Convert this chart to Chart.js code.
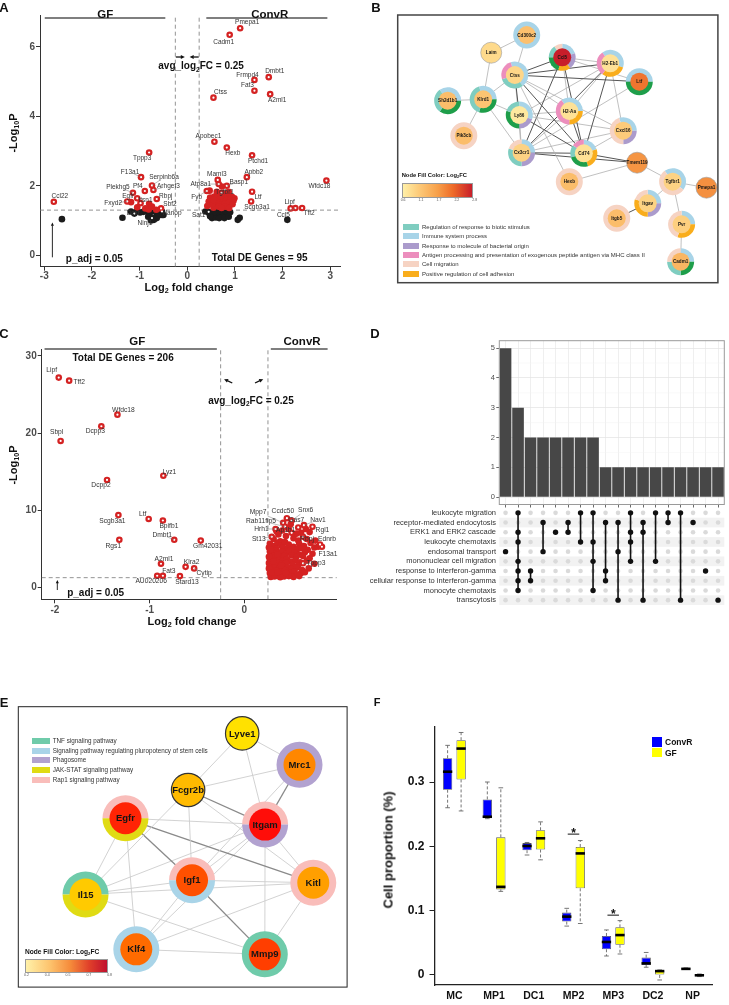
<!DOCTYPE html>
<html lang="en">
<head>
<meta charset="UTF-8">
<title>Figure panels A-F</title>
<script src="https://cdn.jsdelivr.net/npm/chart.js"></script>
<style>
  * { box-sizing: border-box; margin: 0; padding: 0; }
  body { width: 729px; height: 1005px; position: relative; overflow: hidden; background: #fff;
         font-family: 'Liberation Sans', Arial, sans-serif; color: #111; }
  canvas { position: absolute; }
  .t { position: absolute; white-space: nowrap; line-height: 1; transform: translate(-50%, -50%); }
  .r { transform: translate(-50%, -50%) rotate(-90deg); }
  .tag { font-weight: bold; font-size: 13px; }
  .axt { font-weight: bold; font-size: 11px; }
  sub { font-size: 65%; vertical-align: -0.3em; line-height: 0; }
  .leg { position: absolute; white-space: nowrap; line-height: 1; color: #333; transform: translateY(-50%); }
  .sw { position: absolute; }
</style>
</head>
<body>
  <canvas id="chartA" width="365" height="300" style="left:0;top:0"></canvas>
  <canvas id="chartB" width="369" height="300" style="left:360px;top:0"></canvas>
  <canvas id="chartC" width="365" height="330" style="left:0;top:300px"></canvas>
  <canvas id="chartDbar" width="369" height="210" style="left:360px;top:300px"></canvas>
  <canvas id="chartDmat" width="369" height="105" style="left:360px;top:504px"></canvas>
  <canvas id="chartE" width="365" height="365" style="left:0;top:640px"></canvas>
  <canvas id="chartF" width="369" height="365" style="left:360px;top:640px"></canvas>

  <div class="t tag" style="left:4px;top:7px">A</div>
  <div class="t tag" style="left:376px;top:7px">B</div>
  <div class="t tag" style="left:4px;top:333px">C</div>
  <div class="t tag" style="left:375px;top:333px">D</div>
  <div class="t tag" style="left:4px;top:702px">E</div>
  <div class="t tag" style="left:377px;top:702px;font-size:11px">F</div>

  <div class="t r axt" style="left:13px;top:133px">-Log<sub>10</sub>P</div>
  <div class="t axt" style="left:189px;top:287px">Log<sub>2</sub> fold change</div>
  <div class="t r axt" style="left:13px;top:465px">-Log<sub>10</sub>P</div>
  <div class="t axt" style="left:192px;top:621px">Log<sub>2</sub> fold change</div>
  <div class="t r" style="left:388px;top:850px;font-weight:bold;font-size:13px">Cell proportion (%)</div>

<script>
const FONT = "'Liberation Sans', Arial, sans-serif";
Chart.defaults.font.family = FONT;

// thresholds used in both volcano plots
const P_CUT = 1.3;      // -log10(0.05)
const LFC_CUT = 0.25;

// ---------- Panel A: volcano, ConvR vs GF ----------
const aGenes = ['Pmepa1','Cadm1','Dmbt1','Frmpd4','Fat3','A2ml1','Ctss','Apobec1','Hexb','Ptchd1',
  'Apbb2','Maml3','Atp8a1','Basp1','Tgfbr1','Fyb','Ltf','Scgb3a1','Wfdc18','Lipf',
  'Ccl5','Tff2','Tppp3','F13a1','Serpinb6a','Arhgef3','Pf4','Plekhg5','Egfr','Itsn1',
  'Rbpj','Fxyd2','Sbf2','Ccl22','Sat1','Dcxr','Ninj1','Nanop'];
const aGeneLfc = [1.11,0.89,1.71,1.41,1.41,1.74,0.55,0.57,0.83,1.36,
  1.25,0.64,0.66,0.83,0.72,0.41,1.36,1.34,2.92,2.17,
  2.27,2.41,-0.80,-0.97,-0.74,-0.71,-0.89,-1.14,-1.05,-0.98,
  -0.64,-1.26,-0.55,-2.80,0.45,-1.11,-0.74,-0.53];
const aGeneP = [6.54,6.35,5.13,5.05,4.74,4.64,4.54,3.27,3.10,2.88,
  2.25,2.17,2.05,2.00,1.80,1.85,1.83,1.55,2.15,1.35,
  1.36,1.36,2.96,2.25,2.01,1.88,1.85,1.80,1.64,1.50,
  1.62,1.55,1.35,1.54,1.25,1.20,1.07,1.26];
const aOtherSig = [[-1.18,1.53],[-0.80,1.48],[-0.88,1.35],[-0.81,1.32],[-0.65,1.31],[-0.74,1.40],[-1.05,1.38],
  [0.48,1.66],[0.57,1.69],[0.66,1.76],[0.73,1.64],[0.80,1.69],[0.87,1.72],[0.94,1.68],[0.99,1.64],
  [0.60,1.57],[0.67,1.55],[0.76,1.57],[0.83,1.59],[0.90,1.59],[0.97,1.57],[0.59,1.47],[0.69,1.45],
  [0.78,1.48],[0.87,1.50],[0.95,1.47],[0.55,1.37],[0.66,1.40],[0.80,1.40],[0.62,1.83],[0.87,1.83],
  [0.45,1.55],[0.52,1.47],[0.47,1.86],[0.73,1.98],[0.42,1.42],[0.72,1.36],[0.88,1.36],[0.62,1.66],
  [0.70,1.70],[0.78,1.78],[0.55,1.59]];
const aOtherNs = [[-2.63,1.04],[-1.36,1.08],[-1.18,1.26],[-1.05,1.28],[-0.99,1.23],[-0.92,1.25],[-0.85,1.26],
  [-0.78,1.23],[-0.82,1.11],[-0.71,1.07],[-0.70,1.02],[-0.64,1.07],[-0.64,1.14],[-0.57,1.16],[-0.53,1.16],
  [-0.67,1.26],[-0.50,1.16],[-0.60,1.20],[-0.76,1.00],[0.38,1.26],[0.46,1.21],[0.55,1.16],[0.62,1.18],
  [0.69,1.14],[0.76,1.16],[0.83,1.21],[0.52,1.07],[0.60,1.09],[0.67,1.07],[0.78,1.07],[0.87,1.11],
  [0.74,1.26],[0.64,1.25],[0.56,1.24],[0.80,1.28],[0.90,1.24],[0.48,1.12],[1.06,1.02],[1.10,1.08],[2.10,1.02]];
const aXTicks = [-3, -2, -1, 0, 1, 2, 3];
const aYTicks = [0, 2, 4, 6];

// ---------- Panel C: volcano, GF vs ConvR ----------
const cGenes = ['Lipf','Tff2','Wfdc18','Dcpp3','Sbpl','Lyz1','Dcpp2','Scgb3a1','Ltf','Bpifb1',
  'Dmbt1','Gm42031','Rgs1','A2ml1','Klra2','Cytip','Fat3','AU020206','Stard13','Mpp7',
  'Ccdc50','Snx6','Rab11fip5','Gas7','Nav1','Rgl1','Hrh1','Ap1b1','St13','Rbpj',
  'Ednrb','F13a1','Tppp3'];
const cGeneLfc = [-1.96,-1.85,-1.34,-1.51,-1.94,-0.855,-1.45,-1.33,-1.01,-0.86,
  -0.74,-0.46,-1.32,-0.88,-0.62,-0.53,-0.86,-0.92,-0.68,0.41,
  0.45,0.50,0.43,0.57,0.63,0.72,0.33,0.50,0.29,0.62,
  0.80,0.82,0.62];
const cGeneP = [27.2,26.8,22.4,20.9,19.0,14.5,13.95,9.4,8.9,8.7,
  6.2,6.1,6.2,3.1,2.7,2.5,1.55,1.55,1.5,8.4,
  9.0,8.7,7.9,7.8,8.1,7.9,7.6,7.1,6.6,6.6,
  5.6,5.3,3.16];
const cOtherSig = [[0.36,6.9],[0.40,7.4],[0.47,7.6],[0.52,6.4],[0.57,6.1],[0.31,6.3],[0.44,6.7],[0.66,6.3],
  [0.60,7.1],[0.38,6.0],[0.55,7.0],[0.69,7.2],[0.75,6.1],[0.34,7.3],[0.49,8.2],[0.65,7.6],
  [0.27,5.7],[0.31,5.4],[0.35,5.8],[0.39,5.5],[0.43,5.9],[0.47,5.6],[0.52,5.3],[0.58,5.7],[0.63,5.4],
  [0.70,5.8],[0.74,5.2],[0.29,5.1],[0.34,5.0],[0.41,5.2],[0.46,5.0],[0.56,5.0],[0.61,5.1],[0.67,4.9],[0.78,5.3],
  [0.27,4.7],[0.30,4.4],[0.33,4.8],[0.36,4.5],[0.40,4.7],[0.44,4.4],[0.48,4.8],[0.53,4.6],[0.58,4.3],
  [0.64,4.6],[0.72,4.4],[0.28,4.1],[0.32,4.2],[0.38,4.0],[0.42,4.1],[0.50,4.2],[0.55,4.0],[0.62,4.1],[0.69,3.8],
  [0.27,3.7],[0.30,3.9],[0.34,3.6],[0.37,3.8],[0.41,3.5],[0.45,3.7],[0.49,3.4],[0.54,3.6],[0.59,3.3],
  [0.66,3.5],[0.28,3.3],[0.32,3.1],[0.36,3.3],[0.40,3.1],[0.44,3.2],[0.51,3.0],[0.57,2.9],[0.74,3.1],
  [0.27,2.9],[0.30,2.6],[0.33,2.8],[0.37,2.5],[0.41,2.7],[0.46,2.6],[0.50,2.4],[0.55,2.6],[0.61,2.3],
  [0.68,2.5],[0.29,2.3],[0.34,2.2],[0.38,2.1],[0.43,2.3],[0.48,2.0],[0.53,2.1],[0.60,1.9],[0.64,2.0],
  [0.27,1.9],[0.30,1.6],[0.33,1.8],[0.36,1.5],[0.39,1.7],[0.42,1.45],[0.45,1.8],[0.49,1.6],[0.52,1.4],
  [0.56,1.7],[0.28,1.4],[0.32,1.45],[0.38,1.35],[0.47,1.5],[0.58,1.5],[0.44,1.9],
  [0.26,2.5],[0.26,4.0],[0.26,3.2],[0.26,5.2],[0.28,4.9],[0.29,2.0],[0.31,3.4],[0.35,4.3],[0.35,2.0],[0.39,2.9]];
const cXTicks = [-2, -1, 0];
const cYTicks = [0, 10, 20, 30];

// ---------- Panel B: network ----------
const bNodes = ['Cd300c2','Laim','Ccl5','H2-Eb1','Ctss','Ltf','Sh2d1b1','Klrd1','Ly86','H2-Aa','Pik3cb',
  'Cxcl16','Cx3cr1','Cd74','Tmem119','Hexb','Tgfbr1','Pmepa1','Itgav','Itgb5','Pvr','Cadm1'];
const bNodeX = [133.3,96.6,170,219.6,121,249.6,51.6,88.3,125.6,177.3,68.3,233,128,192.3,247.3,177.3,284,319,258.3,226.3,293.3,292.3];
const bNodeY = [20,37.7,42.3,48.3,60,66.7,85.7,84.3,100,96,120.7,115.7,137.7,138.3,147.7,166.7,166.7,172.7,188.3,203.3,209.3,246.7];
const bNodeLfc = [1.25,0.9,2.8,0.8,0.95,2.1,1.3,1.2,0.7,0.8,1.3,1.1,1.0,0.8,1.8,1.3,1.0,1.85,1.0,1.3,1.05,1.4];
// GO term membership rings: [term, start, end] as fractions of a turn from 12 o'clock
const bNodeRings = [
  [['B',0,1]], null,
  [['B',0,0.2],['P',0.2,0.4],['O',0.4,0.55],['G',0.55,0.75],['T',0.75,0.9],['C',0.9,1]],
  [['B',-0.1,0.3],['O',0.3,0.6],['K',0.6,0.9]],
  [['B',-0.05,0.4],['T',0.4,0.7],['K',0.7,0.95]],
  [['B',-0.25,0.25],['G',0.25,0.75]],
  [['B',-0.1,0.25],['G',0.25,0.6],['T',0.6,0.9]],
  [['B',-0.05,0.25],['G',0.25,0.55],['T',0.55,0.95]],
  [['B',0,0.3],['P',0.3,0.5],['G',0.5,0.8],['T',0.8,1]],
  [['B',-0.1,0.25],['O',0.25,0.5],['K',0.5,0.9]],
  [['C',0,1]],
  [['B',-0.05,0.25],['P',0.25,0.5],['C',0.5,0.95]],
  [['B',0,0.25],['P',0.25,0.5],['T',0.5,0.8],['C',0.8,1]],
  [['B',0,0.2],['O',0.2,0.45],['G',0.45,0.7],['T',0.7,0.85],['K',0.85,1]],
  null,
  [['C',0,1]],
  [['B',-0.1,0.35],['C',0.35,0.9]],
  null,
  [['B',0,0.25],['P',0.25,0.5],['O',0.5,0.8],['C',0.8,1]],
  [['C',0,1]],
  [['B',0,0.25],['O',0.25,0.55],['C',0.55,1]],
  [['B',0,0.25],['G',0.25,0.5],['T',0.5,0.75],['C',0.75,1]]
];
const bEdges = [
  ['Cd300c2','Ctss',1],['Laim','Cd300c2',1],['Laim','Klrd1',1],['Sh2d1b1','Klrd1',1],
  ['Klrd1','Pik3cb',1],['Klrd1','Ctss',1],['Klrd1','Ly86',1],['Klrd1','Cx3cr1',1],
  ['Ctss','Ccl5',2],['Ctss','H2-Eb1',2],['Ctss','Ltf',2],['Ctss','Ly86',2],['Ctss','H2-Aa',1],
  ['Ctss','Cd74',2],['Ctss','Cx3cr1',1],['Ctss','Cxcl16',1],['Ctss','Hexb',1],
  ['Ccl5','H2-Eb1',1],['Ccl5','Cx3cr1',2],['Ccl5','Cd74',2],['Ccl5','H2-Aa',1],['Ccl5','Ltf',1],
  ['H2-Eb1','Ly86',1],['H2-Eb1','H2-Aa',1],['H2-Eb1','Cd74',2],['H2-Eb1','Cx3cr1',2],['H2-Eb1','Cxcl16',1],
  ['Ltf','Cx3cr1',1],['Ly86','H2-Aa',1],['Ly86','Cd74',2],['Ly86','Cx3cr1',1],['Ly86','Cxcl16',1],
  ['H2-Aa','Cd74',2],['H2-Aa','Cx3cr1',1],['Cxcl16','Cx3cr1',1],['Cxcl16','Cd74',1],
  ['Cx3cr1','Cd74',2],['Cx3cr1','Tmem119',2],['Cd74','Tmem119',2],['Hexb','Tmem119',1],
  ['Tmem119','Tgfbr1',1],['Tgfbr1','Pmepa1',1],['Tgfbr1','Itgav',1],['Tgfbr1','Pvr',1],
  ['Itgav','Itgb5',2],['Pvr','Cadm1',1]];
const bLegendKeys = ['T','B','P','K','C','O'];
const bLegendLabels = ['Regulation of response to biotic stimulus','Immune system process',
  'Response to molecule of bacterial origin',
  'Antigen processing and presentation of exogenous peptide antigen via MHC class II',
  'Cell migration','Positive regulation of cell adhesion'];
const bColorTicks = ['0.6','1.1','1.7','2.2','2.8'];
const bColorStops = [[0.6,'#fff0a8'],[1.1,'#fdcb7a'],[1.7,'#f7a04a'],[2.2,'#ee6a28'],[2.8,'#c81e2a']];

// ---------- Panel D: upset plot ----------
const dRows = ['leukocyte migration','receptor-mediated endocytosis','ERK1 and ERK2 cascade',
  'leukocyte chemotaxis','endosomal transport','mononuclear cell migration',
  'response to interferon-gamma','cellular response to interferon-gamma','monocyte chemotaxis','transcytosis'];
const dColumnSets = [[4],[0,2,3,5,6,7,8],[6,7],[1,4],[2],[1,2],[0,3],[0,3,5,8],[1,6,7],[1,4,9],
  [0,2,3,5],[1,2,9],[0,5],[0,1],[0,9],[1],[6],[9]];
const dCounts = [5,3,2,2,2,2,2,2,1,1,1,1,1,1,1,1,1,1];
const dYTicks = [0, 1, 2, 3, 4, 5];

// ---------- Panel E: network ----------
const eNodes = ['Lyve1','Mrc1','Fcgr2b','Egfr','Itgam','Igf1','Kitl','Il15','Klf4','Mmp9'];
const eNodeX = [227.7,286,172.7,109,251,176.7,300,68.4,120,250.7];
const eNodeY = [28.3,61.6,88.3,118.3,125,184,186.6,199,257.3,262.6];
const eNodeLfc = [0.2,0.45,0.32,0.72,0.79,0.59,0.39,0.27,0.52,0.64];
const eNodeRings = [null, [['P',0,1]], null,
  [['K',-0.25,0.25],['Y',0.25,0.75]],
  [['K',-0.25,0.25],['P',0.25,0.75]],
  [['K',-0.25,0.25],['B',0.25,0.75]],
  [['K',0,1]],
  [['T',-0.25,0.25],['Y',0.25,0.75]],
  [['B',0,1]], [['T',0,1]]];
const eEdges = [
  ['Lyve1','Mrc1',1],['Lyve1','Fcgr2b',1],['Lyve1','Itgam',1],['Mrc1','Fcgr2b',1],['Mrc1','Itgam',2],
  ['Mrc1','Igf1',1],['Fcgr2b','Itgam',2],['Fcgr2b','Igf1',1],['Fcgr2b','Il15',1],['Fcgr2b','Kitl',1],
  ['Egfr','Itgam',1],['Egfr','Igf1',2],['Egfr','Kitl',2],['Egfr','Il15',1],['Egfr','Klf4',1],
  ['Itgam','Igf1',1],['Itgam','Il15',1],['Itgam','Klf4',1],['Itgam','Mmp9',1],['Itgam','Kitl',1],
  ['Igf1','Il15',1],['Igf1','Kitl',1],['Igf1','Klf4',1],['Igf1','Mmp9',2],
  ['Il15','Kitl',1],['Il15','Mmp9',1],['Klf4','Mmp9',1],['Klf4','Kitl',1],['Kitl','Mmp9',1]];
const eLegendKeys = ['T','B','P','Y','K'];
const eLegendLabels = ['TNF signaling pathway','Signaling pathway regulating pluropotency of stem cells',
  'Phagosome','JAK-STAT signaling pathway','Rap1 signaling pathway'];
const eColorTicks = ['0.2','0.4','0.5','0.7','0.8'];
const eFillStops = [[0.2,'#ffe100'],[0.35,'#ffb000'],[0.5,'#ff7200'],[0.65,'#ff3a00'],[0.8,'#ff0a0a']];

// ---------- Panel F: boxplots ----------
const fGroups = ['MC','MP1','DC1','MP2','MP3','DC2','NP'];
const fConvMin = [0.260,0.243,0.1865,0.076,0.0295,0.012,0.0085];
const fConvQ1  = [0.288,0.244,0.194,0.083,0.040,0.0155,0.0088];
const fConvMed = [0.316,0.246,0.2005,0.0907,0.0513,0.018,0.0095];
const fConvQ3  = [0.337,0.273,0.205,0.097,0.0606,0.027,0.0105];
const fConvMax = [0.357,0.300,0.206,0.1036,0.070,0.035,0.011];
const fGfMin = [0.255,0.130,0.179,0.080,0.0326,-0.0078,-0.0025];
const fGfQ1  = [0.304,0.133,0.195,0.1347,0.047,0.000,-0.002];
const fGfMed = [0.352,0.137,0.2125,0.189,0.062,0.006,-0.0005];
const fGfQ3  = [0.365,0.214,0.225,0.199,0.074,0.0067,0.001];
const fGfMax = [0.377,0.291,0.238,0.209,0.0845,0.0078,0.0015];
const fYTicks = [0, 0.1, 0.2, 0.3];
const fSigGroups = [3, 4];
const fSigY = [0.219, 0.093];

// ---------- label placement (pixels, relative to each point) ----------
const aLabelNudge = [[7,-6],[-6,7],[6,-6],[-7,-5],[-7,-5],[7,6],[7,-5],[-6,-6],[6,6],[6,6],
  [7,-5],[-1,-6],[-18,0],[12,-4],[3,-1],[-10,6],[6,5],[6,6],[-7,6],[-1,-6],
  [-12,7],[7,5],[-7,6],[-11,-5],[12,-8],[15,-4],[-7,-5],[-15,-6],[-9,-2],[5,-3],
  [9,-3],[-14,2],[9,-4],[6,-6],[-10,3],[-1,0],[-7,5],[10,2]];
const cLabelNudge = [[-7,-7],[10,1],[6,-5],[-6,5],[-4,-9],[6,-4],[-6,5],[-6,6],[-6,-5],[6,6],
  [-12,-5],[7,6],[-6,6],[3,-5],[6,-5],[10,5],[6,-5],[-6,5],[7,6],[-25,-11],
  [-4,-7],[14,-10],[-24,-6],[-2,-7],[14,-5],[10,3],[-14,0],[-6,-3],[-13,2],[4,2],
  [7,-5],[6,7],[13,0]];

// ---------- helpers ----------
const pairs = (xs, ys) => xs.map((v, i) => ({ x: v, y: ys[i] }));
const pts = arr => arr.map(([x, y]) => ({ x, y }));

function rampColor(stops, v) {
  const hex = h => [1, 3, 5].map(k => parseInt(h.slice(k, k + 2), 16));
  if (v <= stops[0][0]) return stops[0][1];
  for (let i = 1; i < stops.length; i++) {
    if (v <= stops[i][0]) {
      const t = (v - stops[i - 1][0]) / (stops[i][0] - stops[i - 1][0]);
      const a = hex(stops[i - 1][1]), b = hex(stops[i][1]);
      return 'rgb(' + a.map((c, k) => Math.round(c + (b[k] - c) * t)).join(',') + ')';
    }
  }
  return stops[stops.length - 1][1];
}

function fixSize(s, size) {
  if (s.isHorizontal()) { s.height = size; s.paddingLeft = 0; s.paddingRight = 0; }
  else { s.width = size; s.paddingTop = 0; s.paddingBottom = 0; }
}

function richText(ctx, parts, cx, cy, size, color) {
  ctx.save();
  ctx.fillStyle = color;
  ctx.textAlign = 'left';
  ctx.textBaseline = 'alphabetic';
  const main = 'bold ' + size + 'px ' + FONT, small = 'bold ' + (size * 0.65) + 'px ' + FONT;
  let w = 0;
  parts.forEach(([t, s]) => { ctx.font = s ? small : main; w += ctx.measureText(t).width; });
  let x = cx - w / 2;
  const base = cy + size * 0.36;
  parts.forEach(([t, s]) => {
    ctx.font = s ? small : main;
    ctx.fillText(t, x, s ? base + size * 0.25 : base);
    x += ctx.measureText(t).width;
  });
  ctx.restore();
}

function drawArrow(ctx, x1, y1, x2, y2, head, width) {
  const ang = Math.atan2(y2 - y1, x2 - x1);
  ctx.save();
  ctx.strokeStyle = '#111'; ctx.fillStyle = '#111'; ctx.lineWidth = width;
  ctx.beginPath(); ctx.moveTo(x1, y1);
  ctx.lineTo(x2 - Math.cos(ang) * head * 0.8, y2 - Math.sin(ang) * head * 0.8); ctx.stroke();
  ctx.beginPath(); ctx.moveTo(x2, y2);
  ctx.lineTo(x2 - head * Math.cos(ang - 0.45), y2 - head * Math.sin(ang - 0.45));
  ctx.lineTo(x2 - head * Math.cos(ang + 0.45), y2 - head * Math.sin(ang + 0.45));
  ctx.closePath(); ctx.fill();
  ctx.restore();
}

function ggAxis(range, ticks, size, pad) {
  return {
    type: 'linear', min: range[0], max: range[1],
    afterBuildTicks: s => { s.ticks = ticks.map(v => ({ value: v })); },
    afterFit: s => fixSize(s, size),
    border: { display: true, color: '#333', width: 1 },
    grid: { drawOnChartArea: false, drawTicks: true, tickLength: 4, color: '#333' },
    ticks: { autoSkip: false, maxRotation: 0, padding: pad, color: '#4d4d4d',
             font: { size: 10, weight: 'bold' }, callback: v => String(v) }
  };
}

function volcanoPlugin(c) {
  return {
    id: 'volcanoNotes',
    afterDatasetsDraw(chart) {
      const { ctx, scales: { x, y } } = chart;
      ctx.save();
      ctx.font = c.labelSize + 'px ' + FONT;
      ctx.textAlign = 'center'; ctx.textBaseline = 'middle';
      c.genes.forEach((g, i) => {
        const px = x.getPixelForValue(c.lfc[i]), py = y.getPixelForValue(c.p[i]);
        const [dx, dy] = c.nudge[i];
        if (Math.hypot(dx, dy) > 11) {
          ctx.strokeStyle = '#777'; ctx.lineWidth = 0.5;
          ctx.beginPath(); ctx.moveTo(px, py); ctx.lineTo(px + dx * 0.62, py + dy * 0.62); ctx.stroke();
        }
        ctx.fillStyle = '#333';
        ctx.fillText(g, px + dx, py + dy);
      });
      ctx.restore();
      c.notes.forEach(n => richText(ctx, n.parts, x.getPixelForValue(n.x), y.getPixelForValue(n.y), n.size, '#111'));
      c.arrows.forEach(a => drawArrow(ctx, x.getPixelForValue(a[0]), y.getPixelForValue(a[1]),
        x.getPixelForValue(a[2]), y.getPixelForValue(a[3]), a[4], a[5]));
    }
  };
}

function volcanoChart(id, c) {
  const isSig = d => d.y > P_CUT && Math.abs(d.x) > LFC_CUT;
  const labelled = pairs(c.lfc, c.p);
  const red = pts(c.otherSig).concat(labelled.filter(isSig));
  const black = pts(c.otherNs).concat(labelled.filter(d => !isSig(d)));
  const [x0, x1] = c.xRange, [y0, y1] = c.yRange;
  const guide = (data, color, width, dash) => ({
    data, showLine: true, borderColor: color, borderWidth: width, borderDash: dash, pointRadius: 0, clip: false });
  return new Chart(document.getElementById(id), {
    type: 'scatter',
    data: { datasets: [
      { data: labelled, pointRadius: 1.1, pointBackgroundColor: '#fff', pointBorderWidth: 0 },
      { data: red, pointRadius: 3.3, pointBackgroundColor: '#d42222', pointBorderWidth: 0 },
      { data: black, pointRadius: 3.3, pointBackgroundColor: '#1c1c1c', pointBorderWidth: 0 },
      guide([{ x: -LFC_CUT, y: y0 }, { x: -LFC_CUT, y: y1 }], '#777', 0.8, [4, 3]),
      guide([{ x: LFC_CUT, y: y0 }, { x: LFC_CUT, y: y1 }], '#777', 0.8, [4, 3]),
      guide([{ x: x0, y: P_CUT }, { x: x1, y: P_CUT }], '#777', 0.8, [4, 3]),
      guide([{ x: c.gfBar[0], y: c.barY }, { x: c.gfBar[1], y: c.barY }], '#555', 1.5, []),
      guide([{ x: c.convBar[0], y: c.barY }, { x: c.convBar[1], y: c.barY }], '#555', 1.5, [])
    ] },
    options: {
      responsive: false, animation: false, events: [],
      layout: { padding: c.pad },
      plugins: { legend: { display: false }, tooltip: { enabled: false } },
      scales: {
        x: ggAxis(c.xRange, c.xTicks, c.xAxisSize, c.xPad),
        y: ggAxis(c.yRange, c.yTicks, c.yAxisSize, 1)
      }
    },
    plugins: [volcanoPlugin(c)]
  });
}

// ---------- A ----------
volcanoChart('chartA', {
  genes: aGenes, lfc: aGeneLfc, p: aGeneP, nudge: aLabelNudge, labelSize: 6.5,
  otherSig: aOtherSig, otherNs: aOtherNs,
  xRange: [-3.09, 3.22], yRange: [-0.33, 6.92], xTicks: aXTicks, yTicks: aYTicks,
  pad: { top: 15, right: 24.3, left: 0, bottom: 0 }, xAxisSize: 33.3, yAxisSize: 40, xPad: 0,
  gfBar: [-2.99, -0.46], convBar: [0.40, 2.94], barY: 6.83,
  notes: [
    { parts: [['GF']], x: -1.72, y: 6.95, size: 11.5 },
    { parts: [['ConvR']], x: 1.73, y: 6.95, size: 11.5 },
    { parts: [['avg_log'], ['2', 1], ['FC = 0.25']], x: 0.29, y: 5.46, size: 10 },
    { parts: [['p_adj = 0.05']], x: -1.95, y: -0.09, size: 10 },
    { parts: [['Total DE Genes = 95']], x: 1.52, y: -0.07, size: 10 }
  ],
  arrows: [[-0.24, 5.71, -0.05, 5.71, 4.5, 1.3], [0.24, 5.71, 0.05, 5.71, 4.5, 1.3],
           [-2.83, -0.06, -2.83, 0.94, 3.5, 0.9]]
});

// ---------- C ----------
volcanoChart('chartC', {
  genes: cGenes, lfc: cGeneLfc, p: cGeneP, nudge: cLabelNudge, labelSize: 6.7,
  otherSig: cOtherSig, otherNs: [],
  xRange: [-2.14, 0.976], yRange: [-1.5, 30.9], xTicks: cXTicks, yTicks: cYTicks,
  pad: { top: 49, right: 28.3, left: 0, bottom: 0 }, xAxisSize: 30.7, yAxisSize: 41.7, xPad: 1,
  gfBar: [-2.11, -0.29], convBar: [0.28, 0.88], barY: 30.9,
  notes: [
    { parts: [['GF']], x: -1.13, y: 31.9, size: 11.5 },
    { parts: [['ConvR']], x: 0.61, y: 31.9, size: 11.5 },
    { parts: [['Total DE Genes = 206']], x: -1.28, y: 29.8, size: 10 },
    { parts: [['avg_log'], ['2', 1], ['FC = 0.25']], x: 0.07, y: 24.3, size: 10 },
    { parts: [['p_adj = 0.05']], x: -1.57, y: -0.6, size: 10 }
  ],
  arrows: [[-0.127, 26.5, -0.214, 27.0, 4.5, 1.3], [0.113, 26.5, 0.2, 27.0, 4.5, 1.3],
           [-1.975, -0.3, -1.975, 1.0, 3.5, 0.9]]
});

// ---------- networks (B, E) ----------
function networkChart(id, net) {
  const idx = {};
  net.nodes.forEach((n, i) => { idx[n] = i; });
  const st = net.style;
  const nodeData = pairs(net.x, net.y);
  const edgeSets = net.edges.map(([a, b, w]) => ({
    data: [{ x: net.x[idx[a]], y: net.y[idx[a]] }, { x: net.x[idx[b]], y: net.y[idx[b]] }],
    showLine: true, pointRadius: 0, order: 1,
    borderColor: w > 1 ? st.darkEdge : st.lightEdge, borderWidth: w > 1 ? st.darkWidth : st.lightWidth
  }));
  const rings = {
    id: 'rings',
    beforeDatasetDraw(chart, args) {
      if (args.index !== 0) return;
      const ctx = chart.ctx;
      args.meta.data.forEach((p, i) => {
        const segs = net.rings[i];
        if (!segs) return;
        segs.forEach(([k, a0, a1]) => {
          ctx.beginPath(); ctx.moveTo(p.x, p.y);
          ctx.arc(p.x, p.y, st.outer, -Math.PI / 2 + a0 * 2 * Math.PI, -Math.PI / 2 + a1 * 2 * Math.PI);
          ctx.closePath(); ctx.fillStyle = net.ringColors[k]; ctx.fill();
        });
      });
    },
    afterDatasetsDraw(chart) {
      const ctx = chart.ctx;
      ctx.save();
      ctx.font = 'bold ' + st.labelSize + 'px ' + FONT;
      ctx.fillStyle = '#151515'; ctx.textAlign = 'center'; ctx.textBaseline = 'middle';
      chart.getDatasetMeta(0).data.forEach((p, i) => ctx.fillText(net.nodes[i], p.x, p.y + 0.5));
      const a = chart.chartArea;
      ctx.strokeStyle = st.frame; ctx.lineWidth = st.frameWidth;
      ctx.strokeRect(a.left, a.top, a.right - a.left, a.bottom - a.top);
      ctx.restore();
    }
  };
  return new Chart(document.getElementById(id), {
    type: 'scatter',
    data: { datasets: [{
      data: nodeData, order: 0, clip: false,
      pointRadius: net.rings.map(r => (r ? st.inner : st.plain)),
      pointBackgroundColor: net.fills,
      pointBorderColor: net.rings.map(r => (r ? 'rgba(0,0,0,0)' : st.plainBorder)),
      pointBorderWidth: net.rings.map(r => (r ? 0 : st.plainBorderWidth))
    }, ...edgeSets] },
    options: {
      responsive: false, animation: false, events: [],
      layout: { padding: net.pad },
      plugins: { legend: { display: false }, tooltip: { enabled: false } },
      scales: {
        x: { type: 'linear', min: 0, max: net.w, display: false },
        y: { type: 'linear', min: 0, max: net.h, reverse: true, display: false }
      }
    },
    plugins: [rings]
  });
}

const bRingColors = { T: '#7fcdc0', B: '#a8d4e8', P: '#ab9bcc', K: '#ec8ebd', C: '#f6d3c3', O: '#f9ad1c', G: '#1e9e4a' };
networkChart('chartB', {
  nodes: bNodes, x: bNodeX, y: bNodeY, rings: bNodeRings, edges: bEdges, ringColors: bRingColors,
  fills: bNodeLfc.map(v => rampColor(bColorStops, v)),
  w: 330.8, h: 267.7, pad: { left: 37.7, top: 15, right: 0.5, bottom: 17.3 },
  style: { inner: 9, outer: 13.5, plain: 10.5, plainBorder: '#9a9a9a', plainBorderWidth: 0.6,
           darkEdge: '#555', lightEdge: '#b0b0b0', darkWidth: 1, lightWidth: 0.8,
           labelSize: 4.6, frame: '#444', frameWidth: 1.5 }
});

const eRingColors = { T: '#6fcbaa', B: '#a9d4e8', P: '#b2a2d0', Y: '#e0db14', K: '#f9bdba' };
networkChart('chartE', {
  nodes: eNodes, x: eNodeX, y: eNodeY, rings: eNodeRings, edges: eEdges, ringColors: eRingColors,
  fills: eNodeLfc.map(v => rampColor(eFillStops, v)),
  w: 334.4, h: 297.3, pad: { left: 18.3, top: 66.7, right: 12.3, bottom: 1 },
  style: { inner: 16, outer: 23, plain: 16.7, plainBorder: '#333', plainBorderWidth: 1.2,
           darkEdge: '#8a8a8a', lightEdge: '#cdcdcd', darkWidth: 1.3, lightWidth: 0.9,
           labelSize: 9.5, frame: '#222', frameWidth: 1 }
});

// ---------- D: intersection bars ----------
new Chart(document.getElementById('chartDbar'), {
  type: 'bar',
  data: { labels: dCounts.map((_, i) => String(i + 1)),
          datasets: [{ data: dCounts, backgroundColor: '#474747', barPercentage: 0.93, categoryPercentage: 1 }] },
  options: {
    responsive: false, animation: false, events: [],
    layout: { padding: { top: 40.7, right: 4.7, left: 0, bottom: 0 } },
    plugins: { legend: { display: false }, tooltip: { enabled: false } },
    scales: {
      x: { afterFit: s => fixSize(s, 5.5), border: { display: false },
           grid: { offset: false, color: '#ebebeb', lineWidth: 0.8, drawTicks: true, tickLength: 3, tickColor: '#444' },
           ticks: { display: false, autoSkip: false } },
      y: { min: -0.25, max: 5.25, afterFit: s => fixSize(s, 139.3),
           afterBuildTicks: s => { s.ticks = dYTicks.map(v => ({ value: v })); },
           border: { display: false },
           grid: { color: '#e6e6e6', lineWidth: 0.8, drawTicks: true, tickLength: 3, tickColor: '#444' },
           ticks: { autoSkip: false, padding: 1.3, color: '#4d4d4d', font: { size: 7.5 }, callback: v => String(v) } }
    }
  },
  plugins: [{
    id: 'bwPanel',
    beforeDatasetsDraw(chart) {
      const { ctx, chartArea: a, scales: { y } } = chart;
      ctx.save(); ctx.strokeStyle = '#f3f3f3'; ctx.lineWidth = 0.5;
      dYTicks.slice(0, -1).forEach(v => {
        const py = y.getPixelForValue(v + 0.5);
        ctx.beginPath(); ctx.moveTo(a.left, py); ctx.lineTo(a.right, py); ctx.stroke();
      });
      ctx.restore();
    },
    afterDatasetsDraw(chart) {
      const { ctx, chartArea: a } = chart;
      ctx.save(); ctx.strokeStyle = '#9a9a9a'; ctx.lineWidth = 1;
      ctx.strokeRect(a.left, a.top, a.right - a.left, a.bottom - a.top); ctx.restore();
    }
  }]
});

// ---------- D: membership matrix ----------
const dFilled = [], dEmpty = [], dLinks = [];
dColumnSets.forEach((rows, c) => {
  dRows.forEach((_, r) => (rows.includes(r) ? dFilled : dEmpty).push({ x: c, y: r }));
  if (rows.length > 1) {
    dLinks.push({ data: [{ x: c, y: Math.min(...rows) }, { x: c, y: Math.max(...rows) }],
      showLine: true, pointRadius: 0, borderColor: '#111', borderWidth: 1.6 });
  }
});
new Chart(document.getElementById('chartDmat'), {
  type: 'scatter',
  data: { datasets: [
    { data: dFilled, pointRadius: 2.7, pointBackgroundColor: '#111', pointBorderWidth: 0 },
    ...dLinks,
    { data: dEmpty, pointRadius: 2.3, pointBackgroundColor: '#dadada', pointBorderWidth: 0 }
  ] },
  options: {
    responsive: false, animation: false, events: [],
    layout: { padding: { top: 0, right: 4.7, left: 0, bottom: 0 } },
    plugins: { legend: { display: false }, tooltip: { enabled: false } },
    scales: {
      x: { type: 'linear', min: -0.5, max: dColumnSets.length - 0.5, display: false },
      y: { type: 'linear', min: -0.5, max: dRows.length - 0.5, reverse: true,
           afterFit: s => fixSize(s, 139.3),
           afterBuildTicks: s => { s.ticks = dRows.map((_, i) => ({ value: i })); },
           border: { display: false }, grid: { display: false, drawTicks: false },
           ticks: { autoSkip: false, padding: 3.3, color: '#333', font: { size: 7.5 }, callback: v => dRows[v] } }
    }
  },
  plugins: [{
    id: 'stripes',
    beforeDatasetsDraw(chart) {
      const { ctx, chartArea: a, scales: { y } } = chart;
      const h = Math.abs(y.getPixelForValue(1) - y.getPixelForValue(0));
      ctx.save(); ctx.fillStyle = '#f2f2f2';
      dRows.forEach((_, r) => {
        if (r % 2 === 1) ctx.fillRect(a.left, y.getPixelForValue(r) - h / 2, a.right - a.left, h);
      });
      ctx.restore();
    }
  }]
});

// ---------- F: boxplots ----------
const fStats = [[fConvMin, fConvQ1, fConvMed, fConvQ3, fConvMax], [fGfMin, fGfQ1, fGfMed, fGfQ3, fGfMax]];
new Chart(document.getElementById('chartF'), {
  type: 'bar',
  data: { labels: fGroups, datasets: [
    { label: 'ConvR', data: fGroups.map((_, i) => [fConvQ1[i], fConvQ3[i]]), backgroundColor: '#0000ff',
      borderColor: '#555', borderWidth: 0.8, borderSkipped: false, barPercentage: 0.69, categoryPercentage: 0.68 },
    { label: 'GF', data: fGroups.map((_, i) => [fGfQ1[i], fGfQ3[i]]), backgroundColor: '#ffff00',
      borderColor: '#555', borderWidth: 0.8, borderSkipped: false, barPercentage: 0.69, categoryPercentage: 0.68 }
  ] },
  options: {
    responsive: false, animation: false, events: [],
    layout: { padding: { top: 86.7, right: 16.5, left: 0, bottom: 0 } },
    plugins: { legend: { display: false }, tooltip: { enabled: false } },
    scales: {
      x: { afterFit: s => fixSize(s, 20), border: { display: true, color: '#222', width: 1.3 },
           grid: { display: false, drawTicks: false },
           ticks: { autoSkip: false, padding: 5, color: '#111', font: { size: 10.5, weight: 'bold' } } },
      y: { min: -0.0156, max: 0.386, afterFit: s => fixSize(s, 74.5),
           afterBuildTicks: s => { s.ticks = fYTicks.map(v => ({ value: v })); },
           border: { display: true, color: '#222', width: 1.3 },
           grid: { drawOnChartArea: false, drawTicks: true, tickLength: 5, color: '#222' },
           ticks: { autoSkip: false, padding: 5, color: '#111', font: { size: 12, weight: 'bold' }, callback: v => String(v) } }
    }
  },
  plugins: [{
    id: 'whiskers',
    afterDatasetsDraw(chart) {
      const { ctx, scales: { y } } = chart;
      const seg = (x1, y1, x2, y2) => { ctx.beginPath(); ctx.moveTo(x1, y1); ctx.lineTo(x2, y2); ctx.stroke(); };
      ctx.save();
      fStats.forEach((st, d) => {
        chart.getDatasetMeta(d).data.forEach((bar, i) => {
          const [mn, q1, med, q3, mx] = st.map(arr => y.getPixelForValue(arr[i]));
          const x = bar.x, w = bar.width;
          ctx.strokeStyle = '#666'; ctx.lineWidth = 0.9; ctx.setLineDash([3, 2]);
          if (mx < q3 - 0.5) seg(x, q3, x, mx);
          if (mn > q1 + 0.5) seg(x, q1, x, mn);
          ctx.setLineDash([]);
          seg(x - w * 0.25, mx, x + w * 0.25, mx);
          seg(x - w * 0.25, mn, x + w * 0.25, mn);
          ctx.strokeStyle = '#000'; ctx.lineWidth = 2.6;
          seg(x - w / 2, med, x + w / 2, med);
        });
      });
      ctx.fillStyle = '#111'; ctx.strokeStyle = '#111'; ctx.lineWidth = 1;
      ctx.font = 'bold 12px ' + FONT; ctx.textAlign = 'center'; ctx.textBaseline = 'alphabetic';
      fSigGroups.forEach((g, k) => {
        const xa = chart.getDatasetMeta(0).data[g].x, xb = chart.getDatasetMeta(1).data[g].x;
        const py = y.getPixelForValue(fSigY[k]);
        seg(xa + 1, py, xb - 1, py);
        ctx.fillText('*', (xa + xb) / 2, py + 3);
      });
      ctx.restore();
    }
  }]
});

// ---------- HTML legends ----------
function addBox(left, top, w, h, bg, border) {
  const d = document.createElement('div');
  d.className = 'sw';
  Object.assign(d.style, { left: left + 'px', top: top + 'px', width: w + 'px', height: h + 'px', background: bg });
  if (border) d.style.border = border;
  document.body.appendChild(d);
}
function addText(html, left, top, css) {
  const d = document.createElement('div');
  d.className = 'leg';
  d.innerHTML = html;
  d.style.left = left + 'px'; d.style.top = top + 'px';
  Object.assign(d.style, css || {});
  document.body.appendChild(d);
}

// B legend
bLegendLabels.forEach((lab, i) => {
  const cy = 226.7 + i * 9.4;
  addBox(402.7, cy - 3, 16.7, 6, bRingColors[bLegendKeys[i]]);
  addText(lab, 422, cy, { fontSize: '6px' });
});
addText('Node Fill Color: Log<sub>2</sub>FC', 401.7, 176, { fontSize: '5.8px', fontWeight: 'bold', color: '#111' });
addBox(401.7, 182.7, 71.6, 15.6,
  'linear-gradient(to right,' + bColorStops.map(([v, c]) => c + ' ' + ((v - 0.6) / 2.2 * 100).toFixed(1) + '%').join(',') + ')',
  '0.5px solid #999');
bColorTicks.forEach((t, i) => addText(t, 400.7 + i * 17.9, 200.6, { fontSize: '3.5px', color: '#555' }));

// E legend
eLegendLabels.forEach((lab, i) => {
  const cy = 740.7 + i * 9.8;
  addBox(32.3, cy - 3, 17.7, 6, eRingColors[eLegendKeys[i]]);
  addText(lab, 52.7, cy, { fontSize: '6.3px' });
});
addText('Node Fill Color: Log<sub>2</sub>FC', 25, 952, { fontSize: '6.6px', fontWeight: 'bold', color: '#111' });
addBox(25, 959.3, 83.3, 14, 'linear-gradient(to right,#fff1a9,#fdc26c 30%,#f58a3a 55%,#e0402a 78%,#c0102e)', '0.5px solid #999');
eColorTicks.forEach((t, i) => addText(t, 24 + i * 20.8, 975.6, { fontSize: '3.5px', color: '#555' }));

// F legend
addBox(652.3, 737.3, 9.4, 9.4, '#0000ff');
addBox(652.3, 747.7, 9.4, 9.4, '#ffff00');
addText('ConvR', 665, 742.3, { fontSize: '8.5px', fontWeight: 'bold', color: '#111' });
addText('GF', 665, 752.7, { fontSize: '8.5px', fontWeight: 'bold', color: '#111' });
</script>
</body>
</html>
